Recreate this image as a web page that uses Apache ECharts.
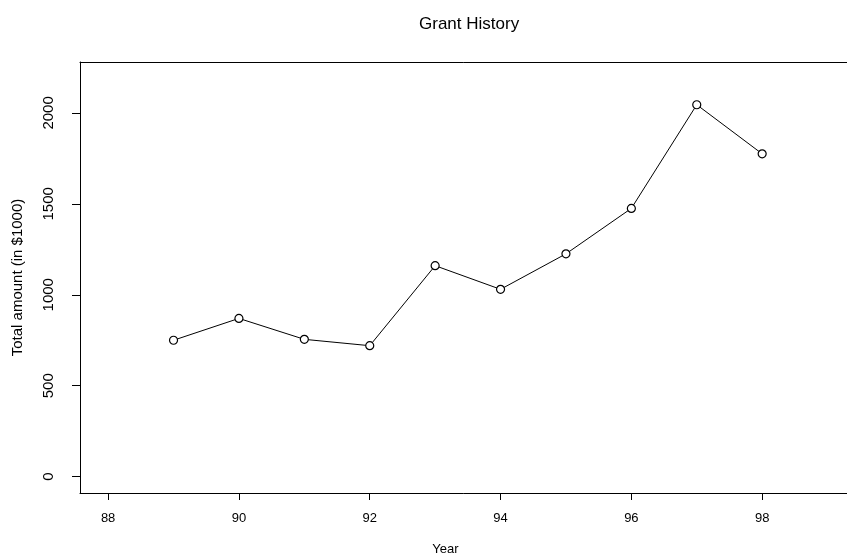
<!DOCTYPE html>
<html>
<head>
<meta charset="utf-8">
<script src="https://cdn.jsdelivr.net/npm/echarts@6/dist/echarts.min.js"></script>
<style>
html,body{margin:0;padding:0;background:#fff;}
#main{width:847px;height:558px;}
</style>
</head>
<body>
<div id="main"></div>
<script>
// data
var years=[89,90,91,92,93,94,95,96,97,98];
var amounts=[750,870,755,720,1160,1030,1225,1475,2045,1775];
var xTicks=[88,90,92,94,96,98];
var yTicks=[0,500,1000,1500,2000];

var pts=[];
for(var i=0;i<years.length;i++){
	pts.push([years[i],amounts[i]]);
}

var font="Liberation Sans";
var chart=echarts.init(document.getElementById('main'));
var option={
	backgroundColor:'#fff',
	animation:false,
	title:{
		text:'Grant History',
		left:414,
		top:11,
		textStyle:{fontFamily:font,fontSize:17,fontWeight:'normal',color:'#000'}
	},
	grid:{
		left:80,top:62,right:-10,bottom:65,
		outerBoundsMode:'none',
		containLabel:false,
		show:false
	},
	xAxis:[{
		type:'value',
		min:87.57,max:99.45,
		name:'Year',nameLocation:'middle',nameGap:50,
		nameTextStyle:{fontFamily:font,fontSize:13,color:'#000',padding:[0,46,0,0]},
		axisLine:{show:true,onZero:false,lineStyle:{color:'#000',width:1}},
		axisTick:{show:true,inside:false,length:7,customValues:xTicks,lineStyle:{color:'#000'}},
		axisLabel:{customValues:xTicks,margin:19,fontFamily:font,fontSize:13,color:'#000'},
		splitLine:{show:false}
	},{
		// top edge of the box
		type:'value',position:'top',
		min:87.57,max:99.45,
		axisLine:{show:true,onZero:false,lineStyle:{color:'#000',width:1}},
		axisTick:{show:false},axisLabel:{show:false},splitLine:{show:false}
	}],
	yAxis:{
		type:'value',
		min:-90,max:2280,
		name:'Total amount (in $1000)',nameLocation:'middle',nameGap:55,
		nameTextStyle:{fontFamily:font,fontSize:15,color:'#000'},
		axisLine:{show:true,onZero:false,lineStyle:{color:'#000',width:1}},
		axisTick:{show:true,inside:false,length:8,customValues:yTicks,lineStyle:{color:'#000'}},
		axisLabel:{customValues:yTicks,rotate:90,margin:24,fontFamily:font,fontSize:15,color:'#000',
			formatter:function(v){return String(v);}},
		splitLine:{show:false}
	},
	series:[{
		type:'line',
		data:pts,
		symbol:'circle',
		symbolSize:8,
		showSymbol:true,
		lineStyle:{color:'#000',width:1},
		itemStyle:{color:'#fff',borderColor:'#000',borderWidth:1.2}
	}]
};
chart.setOption(option);
</script>
</body>
</html>
